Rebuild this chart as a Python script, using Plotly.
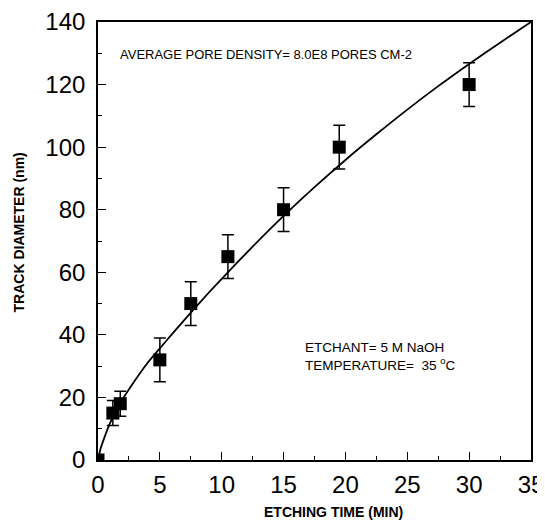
import plotly.graph_objects as go

# Measured data (etching time in min, track diameter in nm)
etch_time = [0, 1.2, 1.8, 5.0, 7.5, 10.5, 15.0, 19.5, 30.0]
diameter = [0, 15, 18, 32, 50, 65, 80, 100, 120]
err = [0, 4, 4, 7, 7, 7, 7, 7, 7]

# Fitted curve
curve_x = [0, 0.2, 0.5, 1, 1.5, 2, 3, 4, 5, 6, 7.5, 9, 10.5, 12.5, 15, 17.5, 20, 22.5, 25, 27.5, 30, 32.5, 35]
curve_y = [0, 3.5, 7, 12, 16, 19.5, 25.5, 31, 35.7, 40.3, 47.1, 53.7, 60, 68.2, 78, 87.2, 95.9, 104.1, 112, 119.5, 126.6, 133.4, 140]

x_ticks = [0, 5, 10, 15, 20, 25, 30, 35]
y_ticks = [0, 20, 40, 60, 80, 100, 120, 140]

FONT = "Liberation Sans, Arial, sans-serif"

fig = go.Figure()
fig.add_trace(go.Scatter(x=curve_x, y=curve_y, mode="lines",
                         line=dict(color="black", width=1.8, shape="spline", smoothing=0.6),
                         hoverinfo="skip", showlegend=False))
fig.add_trace(go.Scatter(x=etch_time, y=diameter, mode="markers",
                         marker=dict(symbol="square", size=13, color="black"),
                         error_y=dict(type="data", array=err, visible=True,
                                      color="black", thickness=1.5, width=6),
                         showlegend=False, cliponaxis=True))

fig.add_annotation(x=1.6, y=129.5, xref="x", yref="y", xanchor="left", yanchor="middle",
                   text="AVERAGE PORE DENSITY= 8.0E8 PORES CM-2", showarrow=False,
                   font=dict(family=FONT, size=13, color="black"))
fig.add_annotation(x=16.6, y=36.1, xref="x", yref="y", xanchor="left", yanchor="middle",
                   text="ETCHANT= 5 M NaOH", showarrow=False,
                   font=dict(family=FONT, size=13.5, color="black"))
fig.add_annotation(x=16.6, y=30.6, xref="x", yref="y", xanchor="left", yanchor="middle",
                   text="TEMPERATURE=  35 <sup>o</sup>C", showarrow=False,
                   font=dict(family=FONT, size=13.5, color="black"))

# Axis titles
fig.add_annotation(x=0.545, y=-0.119, xref="paper", yref="paper", xanchor="center", yanchor="middle",
                   text="<b>ETCHING TIME (MIN)</b>", showarrow=False,
                   font=dict(family=FONT, size=14, color="black"))
fig.add_annotation(x=-0.182, y=0.52, xref="paper", yref="paper", xanchor="center", yanchor="middle",
                   text="<b>TRACK DIAMETER (nm)</b>", showarrow=False, textangle=-90,
                   font=dict(family=FONT, size=14, color="black"))

axis_common = dict(showgrid=False, zeroline=False, showline=True, linecolor="black",
                   linewidth=1.6, mirror=True, ticks="inside", ticklen=8, tickwidth=1.2,
                   tickcolor="black", automargin=False,
                   tickfont=dict(family=FONT, size=24, color="black"))

fig.update_xaxes(range=[0, 35], tickvals=x_ticks, ticktext=[str(v) for v in x_ticks],
                 ticklabelstandoff=2,
                 minor=dict(dtick=2.5, ticks="inside", ticklen=4, tickcolor="black", tickwidth=1),
                 **axis_common)
fig.update_yaxes(range=[0, 140], tickvals=y_ticks, ticktext=[str(v) for v in y_ticks],
                 ticklabelstandoff=6,
                 minor=dict(dtick=10, ticks="inside", ticklen=4, tickcolor="black", tickwidth=1),
                 **axis_common)

# The page body adds an 8px margin, so the figure is sized to fit the 545x523 window
fig.update_layout(width=537, height=515, margin=dict(l=90, r=14, t=14, b=63),
                  plot_bgcolor="white", paper_bgcolor="white", showlegend=False)

fig.write_html("out.html")
